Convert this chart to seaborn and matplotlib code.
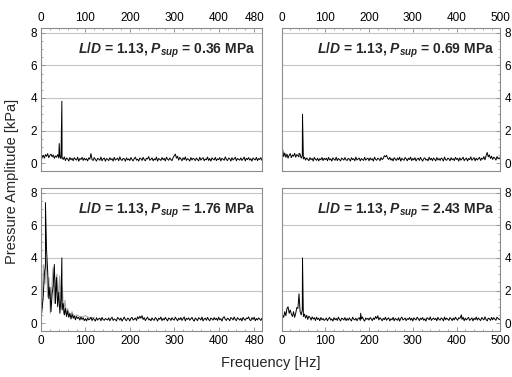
import numpy as np
import pandas as pd
import matplotlib
matplotlib.use("Agg")
import matplotlib.pyplot as plt
from matplotlib.ticker import MultipleLocator
import seaborn as sns

# ---------------- data ----------------
freq_base = [i * 2.5 for i in range(201)]  # Hz, 0 .. 500

amp_036 = [
    0.12, 0.35, 0.48, 0.30, 0.52, 0.41, 0.58, 0.33, 0.47, 0.55, 0.38, 0.50, 0.29, 0.44, 0.36, 0.52, 0.31, 0.40, 0.27, 0.35,
    0.22, 0.38, 0.15, 0.31, 0.26, 0.12, 0.34, 0.20, 0.29, 0.14, 0.33, 0.24, 0.18, 0.36, 0.11, 0.28, 0.22, 0.35, 0.16, 0.30,
    0.19, 0.27, 0.13, 0.32, 0.24, 0.58, 0.21, 0.16, 0.34, 0.22, 0.12, 0.29, 0.25, 0.17, 0.37, 0.14, 0.26, 0.31, 0.11, 0.28,
    0.23, 0.15, 0.33, 0.20, 0.27, 0.12, 0.35, 0.18, 0.24, 0.30, 0.14, 0.38, 0.21, 0.16, 0.29, 0.25, 0.11, 0.32, 0.19, 0.26,
    0.15, 0.34, 0.22, 0.13, 0.28, 0.36, 0.18, 0.24, 0.12, 0.31, 0.27, 0.16, 0.35, 0.21, 0.14, 0.30, 0.25, 0.40, 0.17, 0.23,
    0.32, 0.14, 0.26, 0.19, 0.37, 0.12, 0.28, 0.23, 0.16, 0.34, 0.20, 0.29, 0.13, 0.36, 0.24, 0.17, 0.31, 0.22, 0.15, 0.33,
    0.45, 0.55, 0.30, 0.42, 0.18, 0.35, 0.26, 0.14, 0.32, 0.21, 0.38, 0.16, 0.27, 0.23, 0.12, 0.34, 0.19, 0.29, 0.25, 0.15,
    0.31, 0.22, 0.13, 0.36, 0.18, 0.27, 0.33, 0.14, 0.25, 0.20, 0.37, 0.16, 0.28, 0.12, 0.32, 0.24, 0.19, 0.35, 0.15, 0.26,
    0.21, 0.34, 0.13, 0.29, 0.24, 0.17, 0.38, 0.22, 0.15, 0.31, 0.27, 0.12, 0.33, 0.19, 0.26, 0.36, 0.14, 0.28, 0.23, 0.18,
    0.32, 0.16, 0.25, 0.37, 0.13, 0.29, 0.21, 0.34, 0.18, 0.27, 0.12, 0.31, 0.24, 0.19, 0.35, 0.15, 0.28, 0.22, 0.33, 0.17,
    0.25]
spike_f_036 = [41, 47]
spike_a_036 = [1.20, 3.80]

amp_069 = [
    0.20, 0.85, 0.40, 0.62, 0.35, 0.55, 0.30, 0.48, 0.58, 0.33, 0.50, 0.42, 0.60, 0.36, 0.52, 0.45, 0.38, 0.55, 0.30, 0.44,
    0.25, 0.36, 0.18, 0.31, 0.24, 0.14, 0.33, 0.21, 0.28, 0.12, 0.35, 0.23, 0.17, 0.30, 0.13, 0.27, 0.20, 0.34, 0.15, 0.29,
    0.21, 0.30, 0.14, 0.35, 0.19, 0.26, 0.12, 0.32, 0.23, 0.17, 0.36, 0.15, 0.28, 0.22, 0.13, 0.31, 0.25, 0.18, 0.34, 0.20,
    0.16, 0.29, 0.24, 0.12, 0.33, 0.21, 0.27, 0.14, 0.37, 0.19, 0.25, 0.31, 0.13, 0.28, 0.22, 0.16, 0.35, 0.18, 0.26, 0.30,
    0.14, 0.32, 0.20, 0.27, 0.12, 0.36, 0.23, 0.17, 0.30, 0.25, 0.15, 0.34, 0.21, 0.28, 0.45, 0.38, 0.48, 0.30, 0.22, 0.35,
    0.18, 0.27, 0.13, 0.33, 0.24, 0.16, 0.31, 0.20, 0.36, 0.12, 0.29, 0.22, 0.17, 0.34, 0.26, 0.14, 0.30, 0.21, 0.37, 0.15,
    0.28, 0.19, 0.33, 0.13, 0.25, 0.30, 0.16, 0.35, 0.22, 0.12, 0.27, 0.32, 0.18, 0.24, 0.14, 0.36, 0.20, 0.29, 0.15, 0.31,
    0.23, 0.13, 0.34, 0.19, 0.28, 0.16, 0.31, 0.25, 0.12, 0.37, 0.21, 0.17, 0.30, 0.26, 0.14, 0.33, 0.20, 0.27, 0.15, 0.35,
    0.22, 0.29, 0.12, 0.32, 0.18, 0.26, 0.36, 0.15, 0.24, 0.31, 0.13, 0.28, 0.21, 0.38, 0.17, 0.25, 0.33, 0.14, 0.30, 0.19,
    0.27, 0.35, 0.16, 0.30, 0.24, 0.40, 0.20, 0.45, 0.65, 0.38, 0.50, 0.28, 0.42, 0.22, 0.36, 0.30, 0.18, 0.40, 0.26, 0.33,
    0.24]
spike_f_069 = [40, 48]
spike_a_069 = [0.60, 3.00]

amp_176 = [
    0.20, 0.90, 1.60, 3.00, 3.50, 4.50, 3.20, 1.50, 2.20, 0.70, 1.80, 2.30, 3.60, 1.20, 2.80, 1.00, 1.90, 0.60, 1.50, 0.80,
    1.20, 0.50, 0.90, 0.40, 0.75, 0.35, 0.60, 0.25, 0.55, 0.30, 0.45, 0.20, 0.40, 0.28, 0.35, 0.18, 0.38, 0.22, 0.32, 0.15,
    0.27, 0.13, 0.31, 0.20, 0.24, 0.36, 0.15, 0.29, 0.22, 0.12, 0.33, 0.18, 0.26, 0.30, 0.14, 0.35, 0.21, 0.17, 0.28, 0.23,
    0.19, 0.32, 0.14, 0.27, 0.36, 0.16, 0.25, 0.21, 0.13, 0.34, 0.28, 0.18, 0.31, 0.12, 0.24, 0.37, 0.20, 0.15, 0.30, 0.26,
    0.13, 0.29, 0.35, 0.18, 0.24, 0.31, 0.16, 0.38, 0.27, 0.42, 0.30, 0.45, 0.22, 0.33, 0.15, 0.28, 0.36, 0.19, 0.25, 0.14,
    0.32, 0.21, 0.17, 0.34, 0.26, 0.12, 0.30, 0.23, 0.37, 0.15, 0.28, 0.19, 0.35, 0.24, 0.13, 0.31, 0.27, 0.16, 0.33, 0.22,
    0.18, 0.36, 0.25, 0.14, 0.30, 0.21, 0.34, 0.16, 0.27, 0.38, 0.13, 0.29, 0.23, 0.32, 0.17, 0.26, 0.35, 0.20, 0.12, 0.31,
    0.24, 0.15, 0.33, 0.28, 0.19, 0.37, 0.13, 0.25, 0.30, 0.17, 0.35, 0.22, 0.14, 0.31, 0.26, 0.18, 0.34, 0.21, 0.29, 0.16,
    0.36, 0.20, 0.27, 0.12, 0.32, 0.39, 0.23, 0.16, 0.30, 0.25, 0.14, 0.34, 0.28, 0.19, 0.37, 0.22, 0.15, 0.33, 0.26, 0.18,
    0.29, 0.13, 0.35, 0.24, 0.17, 0.31, 0.27, 0.38, 0.20, 0.15, 0.33, 0.22, 0.36, 0.14, 0.28, 0.19, 0.32, 0.25, 0.16, 0.30,
    0.23]
spike_f_176 = [10, 47]
spike_a_176 = [7.40, 4.00]

gray_f_176 = [0, 3, 6, 9, 12, 15, 18, 21, 24, 27, 30, 33, 36, 39, 42, 45,
              48, 51, 54, 57, 60, 65, 70, 75, 80, 90, 100, 110, 120]
gray_a_176 = [0.4, 1.8, 3.6, 2.4, 3.9, 1.6, 2.8, 0.6, 2.0, 3.4, 1.2, 2.6,
              3.0, 1.4, 2.9, 0.9, 2.2, 0.6, 1.4, 0.5, 0.9, 0.4, 0.7, 0.3,
              0.5, 0.35, 0.45, 0.3, 0.35]

amp_243 = [
    0.25, 0.50, 0.35, 0.70, 0.45, 0.90, 1.00, 0.60, 0.80, 0.55, 0.40, 0.70, 0.35, 0.60, 0.95, 0.90, 1.80, 0.70, 0.50, 0.80,
    0.40, 0.55, 0.30, 0.48, 0.22, 0.42, 0.35, 0.18, 0.38, 0.25, 0.33, 0.15, 0.36, 0.22, 0.30, 0.14, 0.34, 0.20, 0.28, 0.16,
    0.22, 0.31, 0.14, 0.27, 0.35, 0.18, 0.25, 0.12, 0.33, 0.20, 0.29, 0.16, 0.36, 0.23, 0.13, 0.30, 0.26, 0.19, 0.34, 0.15,
    0.28, 0.17, 0.32, 0.21, 0.13, 0.36, 0.24, 0.19, 0.30, 0.14, 0.27, 0.33, 0.16, 0.25, 0.38, 0.20, 0.12, 0.31, 0.23, 0.29,
    0.18, 0.34, 0.26, 0.15, 0.31, 0.22, 0.40, 0.28, 0.45, 0.19, 0.33, 0.25, 0.14, 0.29, 0.21, 0.36, 0.17, 0.27, 0.32, 0.13,
    0.26, 0.20, 0.35, 0.14, 0.29, 0.23, 0.17, 0.33, 0.12, 0.28, 0.37, 0.19, 0.24, 0.31, 0.15, 0.27, 0.22, 0.34, 0.18, 0.30,
    0.13, 0.32, 0.24, 0.19, 0.36, 0.27, 0.15, 0.30, 0.22, 0.34, 0.17, 0.26, 0.12, 0.33, 0.28, 0.20, 0.38, 0.16, 0.25, 0.31,
    0.21, 0.29, 0.14, 0.35, 0.23, 0.18, 0.32, 0.26, 0.13, 0.37, 0.20, 0.30, 0.24, 0.16, 0.34, 0.27, 0.15, 0.31, 0.19, 0.36,
    0.25, 0.17, 0.33, 0.28, 0.42, 0.22, 0.36, 0.14, 0.30, 0.19, 0.27, 0.35, 0.16, 0.24, 0.32, 0.13, 0.29, 0.21, 0.37, 0.18,
    0.31, 0.23, 0.15, 0.34, 0.26, 0.19, 0.38, 0.22, 0.13, 0.30, 0.27, 0.16, 0.35, 0.20, 0.33, 0.24, 0.17, 0.36, 0.28, 0.21,
    0.26]
spike_f_243 = [48, 181, 411]
spike_a_243 = [4.00, 0.60, 0.50]

labels = ["0.36", "0.69", "1.76", "2.43"]
ld_value = "1.13"
xticks_left = [0, 100, 200, 300, 400, 480]
xticks_right = [0, 100, 200, 300, 400, 500]
yticks = [0, 2, 4, 6, 8]


def build(base_a, sf, sa):
    f = list(freq_base) + list(sf)
    a = list(base_a) + list(sa)
    df = pd.DataFrame({"freq": f, "amp": a}).sort_values("freq")
    return df


series = [build(amp_036, spike_f_036, spike_a_036),
          build(amp_069, spike_f_069, spike_a_069),
          build(amp_176, spike_f_176, spike_a_176),
          build(amp_243, spike_f_243, spike_a_243)]
gray_176 = pd.DataFrame({"freq": gray_f_176, "amp": gray_a_176})

# ---------------- style ----------------
sns.set_style("white")
plt.rcParams["font.family"] = ["Liberation Sans", "DejaVu Sans"]
plt.rcParams["mathtext.fontset"] = "custom"
plt.rcParams["mathtext.it"] = "Liberation Sans:bold:italic"
plt.rcParams["mathtext.rm"] = "Liberation Sans:bold"
plt.rcParams["mathtext.bf"] = "Liberation Sans:bold"

fig = plt.figure(figsize=(5.12, 3.77), dpi=100)
W, H = 512, 377


def axes_px(x0, y0, x1, y1):
    return fig.add_axes([x0 / W, 1 - y1 / H, (x1 - x0) / W, (y1 - y0) / H])


ax_tl = axes_px(41, 28, 261.7, 170.7)
ax_tr = axes_px(281.5, 28, 500.3, 170.7)
ax_bl = axes_px(41, 188, 261.7, 330.7)
ax_br = axes_px(281.5, 188, 500.3, 330.7)
axes = [ax_tl, ax_tr, ax_bl, ax_br]

spine_c = "#8c8c8c"
for i, ax in enumerate(axes):
    top = i < 2
    left = i % 2 == 0
    for yv in yticks[1:]:
        ax.axhline(yv, color="#c4c4c4", lw=0.8, zorder=0)
    if i == 2:
        sns.lineplot(data=gray_176, x="freq", y="amp", ax=ax, color="#a8a8a8",
                     lw=0.8, estimator=None, sort=False, zorder=1)
    sns.lineplot(data=series[i], x="freq", y="amp", ax=ax, color="black",
                 lw=0.7, estimator=None, sort=False, zorder=2)
    ax.set_ylim(-0.47, 8.3)
    if left:
        ax.set_xlim(0, 497)
        ax.set_xticks(xticks_left)
    else:
        ax.set_xlim(0, 500)
        ax.set_xticks(xticks_right)
    ax.set_yticks(yticks)
    ax.xaxis.set_minor_locator(MultipleLocator(20))
    ax.yaxis.set_minor_locator(MultipleLocator(0.5))
    ax.set_xlabel("")
    ax.set_ylabel("")
    for s in ax.spines.values():
        s.set_color(spine_c)
        s.set_linewidth(0.8)
    ax.tick_params(which="both", direction="in", color=spine_c, labelsize=8.5,
                   labelcolor="black",
                   top=top, bottom=not top, labeltop=top, labelbottom=not top,
                   left=left, right=not left, labelleft=left, labelright=not left)
    ax.tick_params(which="major", length=3, width=0.6, pad=3)
    ax.tick_params(which="minor", length=1.5, width=0.5)
    ax.text(0.972, 0.845,
            r"$\mathit{L/D}$ = " + ld_value + r", $P_{sup}$ = " + labels[i] + " MPa",
            transform=ax.transAxes, ha="right", va="center",
            fontsize=10, fontweight="bold")

fig.text(0.024, 0.52, "Pressure Amplitude [kPa]", rotation=90,
         ha="center", va="center", fontsize=10.5)
fig.text(0.529, 0.037, "Frequency [Hz]", ha="center", va="center", fontsize=10.5)

fig.savefig("out.png", dpi=100, facecolor="white")
